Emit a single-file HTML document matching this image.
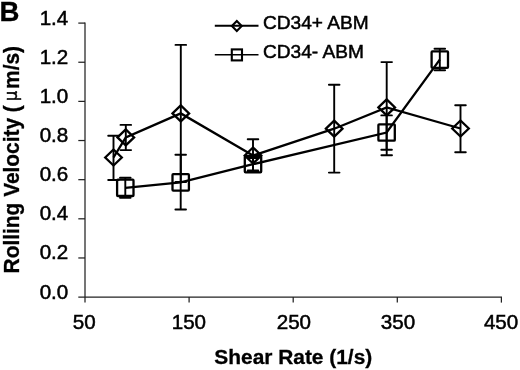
<!DOCTYPE html>
<html><head><meta charset="utf-8"><title>B</title>
<style>
html,body{margin:0;padding:0;background:#fff;}
svg{display:block}
.t{font-family:"Liberation Sans",sans-serif;font-size:20.6px;fill:#000;stroke:#000;stroke-width:0.5px}
.b{font-family:"Liberation Sans",sans-serif;font-weight:bold;fill:#000;stroke:#000;stroke-width:0.3px}
.mu{font-family:"DejaVu Sans",sans-serif;font-weight:normal;font-size:16.5px;stroke-width:0.4px}
</style></head><body>
<svg width="520" height="370" viewBox="0 0 520 370">
<rect width="520" height="370" fill="#fff"/>
<g stroke="#222" stroke-width="1.25" fill="none">
<line x1="85.0" y1="22.5" x2="85.0" y2="302.6"/>
<line x1="78.3" y1="297.1" x2="502.0" y2="297.1"/>
<line x1="78.3" y1="257.96" x2="85.0" y2="257.96"/>
<line x1="78.3" y1="218.81" x2="85.0" y2="218.81"/>
<line x1="78.3" y1="179.67" x2="85.0" y2="179.67"/>
<line x1="78.3" y1="140.53" x2="85.0" y2="140.53"/>
<line x1="78.3" y1="101.39" x2="85.0" y2="101.39"/>
<line x1="78.3" y1="62.24" x2="85.0" y2="62.24"/>
<line x1="78.3" y1="23.10" x2="85.0" y2="23.10"/>
<line x1="189.10" y1="297.1" x2="189.10" y2="302.6"/>
<line x1="293.20" y1="297.1" x2="293.20" y2="302.6"/>
<line x1="397.30" y1="297.1" x2="397.30" y2="302.6"/>
<line x1="501.40" y1="297.1" x2="501.40" y2="302.6"/>
</g>
<g class="t">
<text x="68.3" y="298.90" text-anchor="end">0.0</text>
<text x="68.3" y="259.46" text-anchor="end">0.2</text>
<text x="68.3" y="220.26" text-anchor="end">0.4</text>
<text x="68.3" y="181.17" text-anchor="end">0.6</text>
<text x="68.3" y="142.08" text-anchor="end">0.8</text>
<text x="68.3" y="103.04" text-anchor="end">1.0</text>
<text x="68.3" y="64.01" text-anchor="end">1.2</text>
<text x="68.3" y="25.45" text-anchor="end">1.4</text>
<text x="84.30" y="329.1" text-anchor="middle">50</text>
<text x="188.90" y="329.1" text-anchor="middle">150</text>
<text x="293.90" y="329.1" text-anchor="middle">250</text>
<text x="398.00" y="329.1" text-anchor="middle">350</text>
<text x="501.10" y="329.1" text-anchor="middle">450</text>
</g>
<g fill="none" stroke="#000">
<polyline points="113.5,157.5 125.8,137.4 180.8,113.4 253.0,155.5 334.2,128.7 386.7,107.4 460.5,128.5" stroke-width="2.3"/>
<polyline points="125.3,187.8 180.7,182.4 253.0,164.2 386.6,132.5 439.8,59.6" stroke-width="2.3"/>
<path d="M113.5,135.8V180.0M108.2,135.8h10.6M108.2,180.0h10.6" stroke-width="1.9" stroke-linecap="round"/>
<path d="M105.2,157.5L113.5,149.5L121.8,157.5L113.5,165.5Z" stroke-width="2.3"/>
<path d="M125.8,124.9V150.1M120.5,124.9h10.6M120.5,150.1h10.6" stroke-width="1.9" stroke-linecap="round"/>
<path d="M117.5,137.4L125.8,129.4L134.1,137.4L125.8,145.4Z" stroke-width="2.3"/>
<path d="M180.8,44.9V182.0M175.5,44.9h10.6M175.5,182.0h10.6" stroke-width="1.9" stroke-linecap="round"/>
<path d="M172.5,113.4L180.8,105.4L189.1,113.4L180.8,121.4Z" stroke-width="2.3"/>
<path d="M253.0,139.3V171.5M247.7,139.3h10.6M247.7,171.5h10.6" stroke-width="1.9" stroke-linecap="round"/>
<path d="M244.7,155.5L253.0,147.5L261.3,155.5L253.0,163.5Z" stroke-width="2.3"/>
<path d="M334.2,84.8V172.6M328.9,84.8h10.6M328.9,172.6h10.6" stroke-width="1.9" stroke-linecap="round"/>
<path d="M325.9,128.7L334.2,120.7L342.5,128.7L334.2,136.7Z" stroke-width="2.3"/>
<path d="M386.7,62.1V155.2M381.4,62.1h10.6M381.4,155.2h10.6" stroke-width="1.9" stroke-linecap="round"/>
<path d="M378.4,107.4L386.7,99.4L395.0,107.4L386.7,115.4Z" stroke-width="2.3"/>
<path d="M460.5,105.2V152.3M455.2,105.2h10.6M455.2,152.3h10.6" stroke-width="1.9" stroke-linecap="round"/>
<path d="M452.2,128.5L460.5,120.5L468.8,128.5L460.5,136.5Z" stroke-width="2.3"/>
<path d="M125.3,177.8V197.8M120.0,177.8h10.6M120.0,197.8h10.6" stroke-width="1.9" stroke-linecap="round"/>
<rect x="117.1" y="179.6" width="16.4" height="16.4" rx="0.8" stroke-width="2.3"/>
<path d="M180.7,154.8V209.5M175.39999999999998,154.8h10.6M175.39999999999998,209.5h10.6" stroke-width="1.9" stroke-linecap="round"/>
<rect x="172.5" y="174.2" width="16.4" height="16.4" rx="0.8" stroke-width="2.3"/>
<path d="M253.0,158.0V170.4M247.7,158.0h10.6M247.7,170.4h10.6" stroke-width="1.9" stroke-linecap="round"/>
<rect x="244.8" y="156.0" width="16.4" height="16.4" rx="0.8" stroke-width="2.3"/>
<path d="M386.6,115.4V149.7M381.3,115.4h10.6M381.3,149.7h10.6" stroke-width="1.9" stroke-linecap="round"/>
<rect x="378.4" y="124.3" width="16.4" height="16.4" rx="0.8" stroke-width="2.3"/>
<path d="M439.8,48.8V70.3M434.5,48.8h10.6M434.5,70.3h10.6" stroke-width="1.9" stroke-linecap="round"/>
<rect x="431.6" y="51.4" width="16.4" height="16.4" rx="0.8" stroke-width="2.3"/>
<line x1="214.8" y1="25.7" x2="258.5" y2="25.7" stroke-width="1.9"/>
<path d="M231.9,25.9L236.8,20.9L241.7,25.9L236.8,30.9Z" stroke-width="2.1"/>
<line x1="214.8" y1="54.8" x2="258.5" y2="54.8" stroke-width="1.6"/>
<rect x="231.8" y="49.4" width="10.2" height="11" stroke-width="2.1"/>
</g>
<text class="t" x="263" y="28.9" style="font-size:19.1px">CD34+ ABM</text>
<text class="t" x="263" y="57.7" style="font-size:19.1px">CD34- ABM</text>
<text class="b" x="-0.4" y="21.1" style="font-size:27.6px">B</text>
<text class="b" x="293.3" y="364.3" text-anchor="middle" style="font-size:20.9px">Shear Rate (1/s)</text>
<text class="b" transform="translate(18.6,273.4) rotate(-90) scale(1,1.05)" style="font-size:20.9px">Rolling Velocity ( <tspan class="mu" dx="-1.8" dy="-1.7">μ</tspan><tspan dx="1.8" dy="1.7">m/s)</tspan></text>
</svg>
</body></html>
